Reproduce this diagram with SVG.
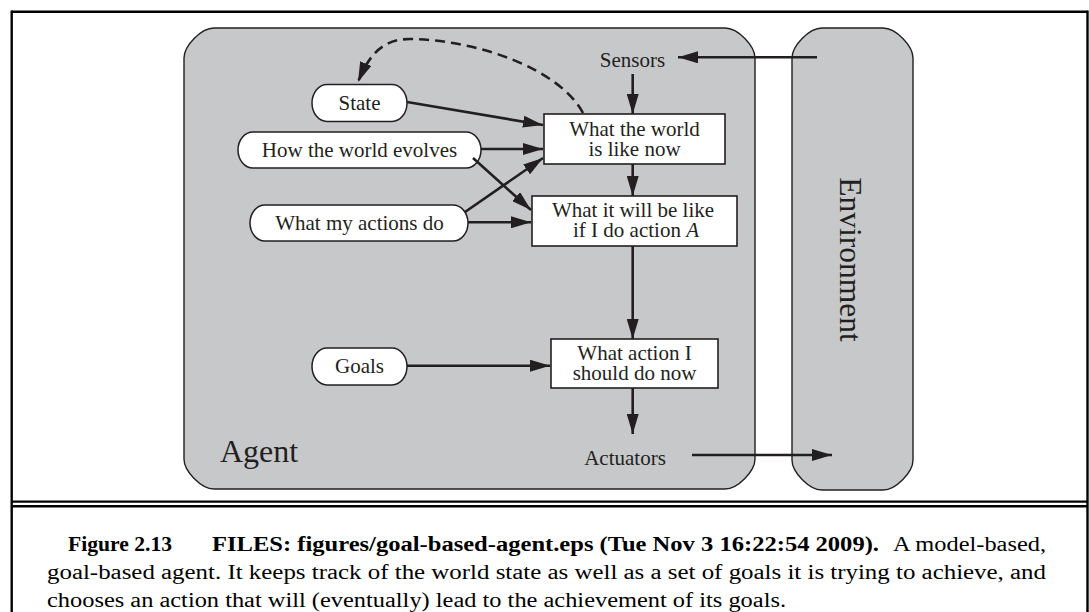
<svg xmlns="http://www.w3.org/2000/svg" width="1089" height="612" viewBox="0 0 1089 612">
<defs>
<style>
.frame{stroke:#000;stroke-width:2.4;fill:none}
.panel{fill:#c7c8ca;stroke:#231f20;stroke-width:1.4}
.pill{fill:#fff;stroke:#231f20;stroke-width:1.5}
.box{fill:#fff;stroke:#231f20;stroke-width:1.6}
.t{font-family:"Liberation Serif","Times New Roman",serif;font-size:21px;fill:#231f20;text-anchor:middle}
.big{font-family:"Liberation Serif","Times New Roman",serif;font-size:32px;fill:#231f20}
.cap{font-family:"Liberation Serif","Times New Roman",serif;font-size:20px;fill:#000}
.capb{font-weight:bold}
.edge{stroke:#231f20;stroke-width:2.6;fill:none;marker-end:url(#ah)}
.dash{stroke-dasharray:10 6}
</style>
<marker id="ah" markerUnits="userSpaceOnUse" markerWidth="20" markerHeight="12" refX="20" refY="6" orient="auto" viewBox="0 0 20 12">
<path d="M0,0 L20,6 L0,12 Z" fill="#231f20"/>
</marker>
</defs>
<rect width="1089" height="612" fill="#fff"/>
<g id="frame">
<line class="frame" x1="11.7" y1="11.7" x2="1087.5" y2="11.7"/>
<line class="frame" x1="11.7" y1="10.5" x2="11.7" y2="612"/>
<line class="frame" x1="1087.5" y1="10.5" x2="1087.5" y2="612"/>
<line class="frame" x1="11" y1="501.6" x2="1088" y2="501.6"/>
<line class="frame" x1="11" y1="506.2" x2="1088" y2="506.2"/>
</g>
<g id="agent">
<path class="panel" d="M184,58 C184,46 201,28 214,28 L725,28 C738,28 755,46 755,58 L755,459 C755,471 738,489 725,489 L214,489 C201,489 184,471 184,459 Z"/>
<text class="big" x="220" y="462">Agent</text>
</g>
<g id="environment">
<path class="panel" d="M792,58 C792,46 809,28 822,28 L883,28 C896,28 913,46 913,58 L913,460 C913,472 896,490 883,490 L822,490 C809,490 792,472 792,460 Z"/>
<text class="big" style="font-size:31.5px;text-anchor:middle" transform="translate(840,259.5) rotate(90)">Environment</text>
</g>
<g id="sensors"><text class="t" x="632.5" y="67">Sensors</text></g>
<g id="actuators"><text class="t" x="625" y="465">Actuators</text></g>
<g id="state">
<rect class="pill" x="312" y="84.5" width="95" height="37" rx="15" ry="18.5"/>
<text class="t" x="359.5" y="110">State</text>
</g>
<g id="how-world-evolves">
<rect class="pill" x="238" y="132" width="243" height="36" rx="15" ry="18"/>
<text class="t" x="359.5" y="157">How the world evolves</text>
</g>
<g id="what-my-actions-do">
<rect class="pill" x="250" y="205" width="218" height="36" rx="15" ry="18"/>
<text class="t" x="359.5" y="230">What my actions do</text>
</g>
<g id="goals">
<rect class="pill" x="312" y="348" width="95" height="37" rx="15" ry="18.5"/>
<text class="t" x="359.5" y="373">Goals</text>
</g>
<g id="world-now">
<rect class="box" x="544" y="114" width="181" height="50"/>
<text class="t" x="634.5" y="135.5">What the world</text>
<text class="t" x="634.5" y="156">is like now</text>
</g>
<g id="will-be-like">
<rect class="box" x="532" y="196" width="205" height="50"/>
<text class="t" x="633" y="216.5">What it will be like</text>
<text class="t" x="636" y="236.5">if I do action <tspan font-style="italic">A</tspan></text>
</g>
<g id="action-now">
<rect class="box" x="551" y="339" width="167" height="49"/>
<text class="t" x="634.5" y="360">What action I</text>
<text class="t" x="634.5" y="380">should do now</text>
</g>
<g id="connectors">
<path class="edge" d="M817,57.3 L678,57.3"/>
<path class="edge" d="M632.7,74 L632.7,114"/>
<path class="edge" d="M632.7,164 L632.7,196"/>
<path class="edge" d="M632.7,246 L632.7,339"/>
<path class="edge" d="M632.7,388 L632.7,434"/>
<path class="edge" d="M692,455 L832,455"/>
<path class="edge" d="M407,102 L543,125"/>
<path class="edge" d="M481,149 L543,149"/>
<path class="edge" d="M473,158 L531,210"/>
<path class="edge" d="M465,212 L543,158"/>
<path class="edge" d="M468,222.3 L531,222.3"/>
<path class="edge" d="M407,365.7 L550,365.7"/>
<path class="edge dash" d="M583,113 C560,70 480,40 410,39 C380,39 368,58 358,82"/>
</g>
<g id="caption">
<text class="cap capb" x="68" y="551" textLength="104" lengthAdjust="spacingAndGlyphs">Figure 2.13</text>
<text class="cap capb" x="212" y="551" textLength="667" lengthAdjust="spacingAndGlyphs">FILES: figures/goal-based-agent.eps (Tue Nov 3 16:22:54 2009).</text>
<text class="cap" x="893" y="551" textLength="153" lengthAdjust="spacingAndGlyphs">A model-based,</text>
<text class="cap" x="47" y="579" textLength="999" lengthAdjust="spacingAndGlyphs">goal-based agent. It keeps track of the world state as well as a set of goals it is trying to achieve, and</text>
<text class="cap" x="47" y="607" textLength="739" lengthAdjust="spacingAndGlyphs">chooses an action that will (eventually) lead to the achievement of its goals.</text>
</g>
</svg>
